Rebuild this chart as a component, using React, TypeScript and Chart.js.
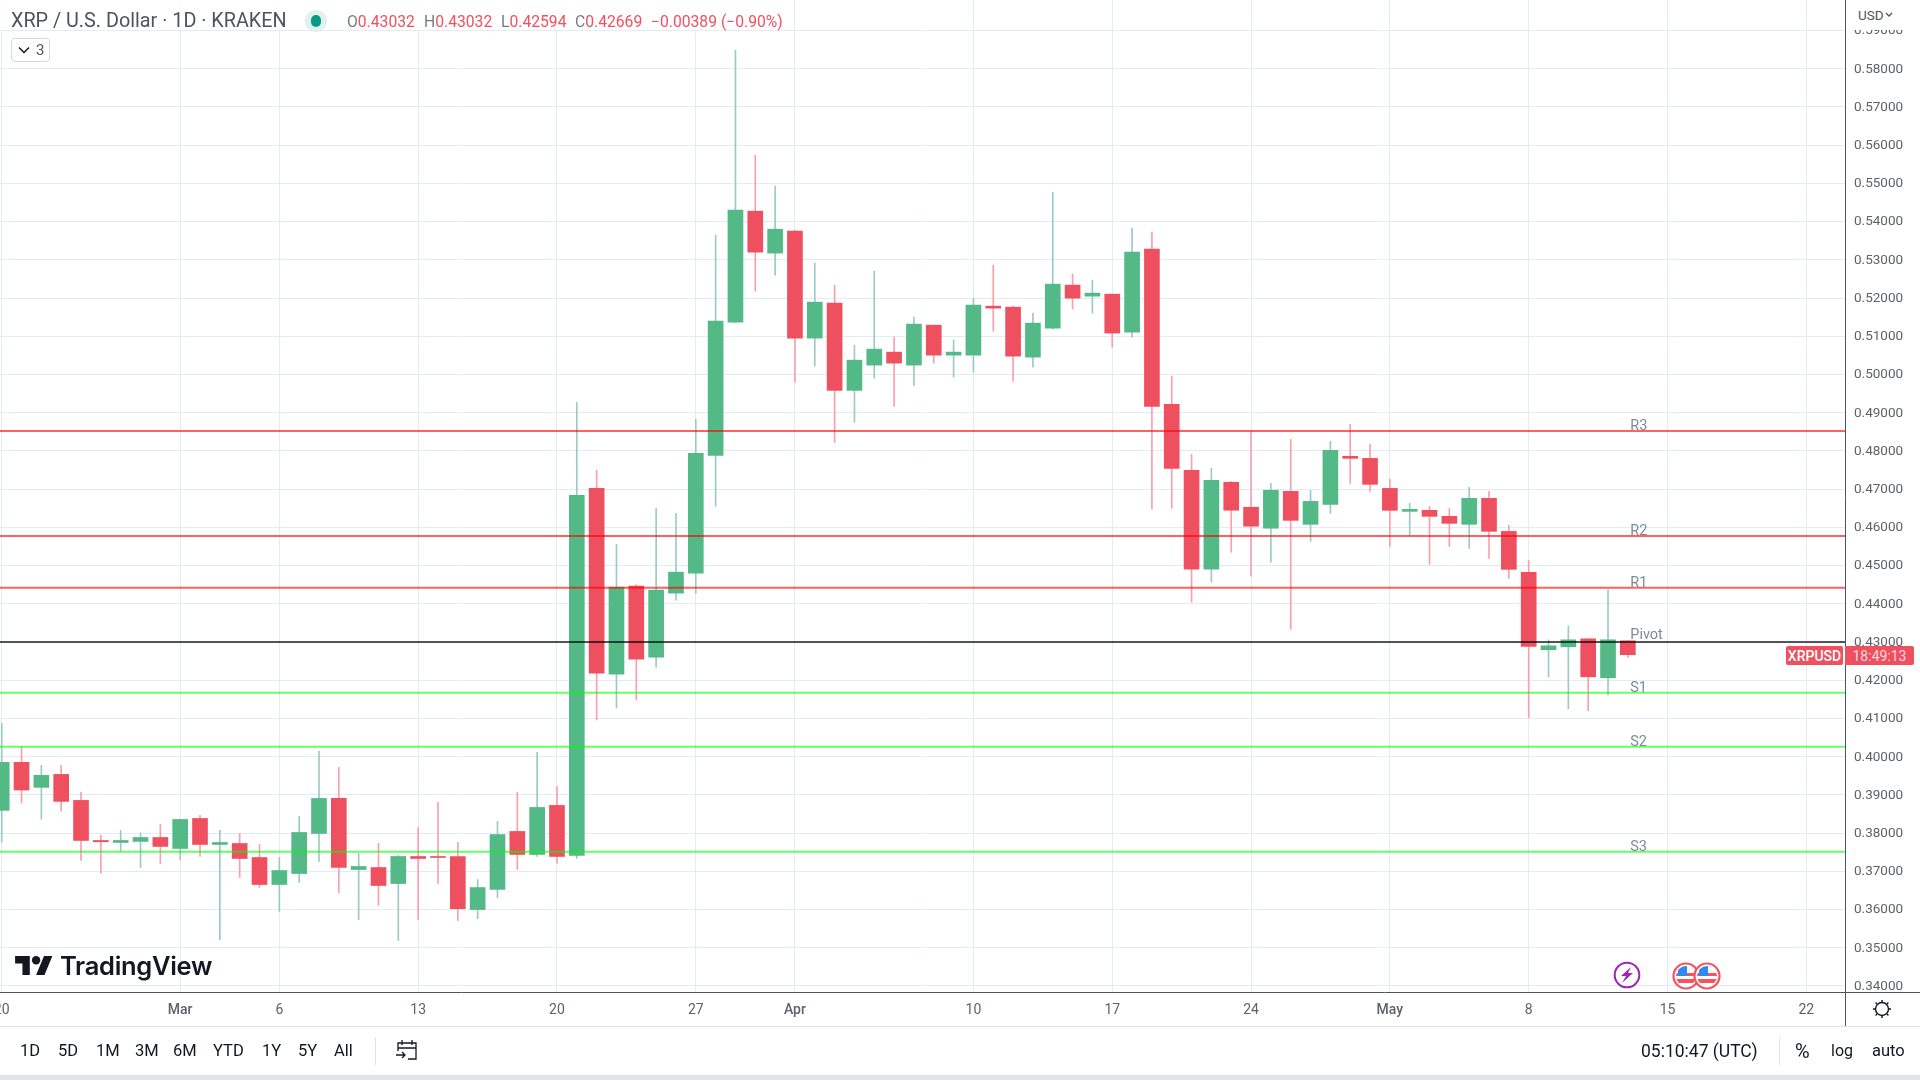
import React, { useEffect, useRef } from "react";
import { Chart, registerables } from "chart.js";

Chart.register(...registerables);

// Day index: 0 = 20 Feb, one step per calendar day
const opens = [0.38594,0.39852,0.39197,0.39537,0.38856,0.37808,0.37755,0.37782,0.37886,0.37598,0.38384,0.37703,0.37729,0.37362,0.36655,0.36943,0.37991,0.38908,0.37048,0.371,0.36681,0.37389,0.37389,0.37389,0.36,0.36524,0.38044,0.37441,0.38725,0.37415,0.47023,0.42162,0.44462,0.42606,0.44279,0.44801,0.47885,0.51369,0.54273,0.53175,0.5375,0.50951,0.51867,0.49584,0.50245,0.50585,0.50245,0.51291,0.50506,0.50506,0.51788,0.51762,0.50454,0.51212,0.52338,0.52049,0.52102,0.51108,0.53279,0.49218,0.47493,0.44906,0.47179,0.46526,0.45977,0.46942,0.46079,0.46602,0.47858,0.47805,0.4702,0.46419,0.46445,0.46288,0.46079,0.46759,0.45895,0.44823,0.42797,0.42875,0.43084,0.42064,0.43032];
const closes = [0.39852,0.39127,0.39511,0.3883,0.37808,0.37773,0.37808,0.37886,0.37651,0.38358,0.37703,0.37755,0.37336,0.36655,0.37022,0.38017,0.38908,0.371,0.37127,0.36629,0.37389,0.37336,0.37362,0.36026,0.36576,0.37965,0.37441,0.38672,0.37389,0.4684,0.42188,0.44436,0.42554,0.44357,0.44828,0.47937,0.51396,0.543,0.53201,0.53802,0.50951,0.51893,0.49584,0.50375,0.50663,0.50297,0.51317,0.50506,0.50585,0.51814,0.51736,0.5048,0.51343,0.52364,0.51997,0.52128,0.51082,0.53201,0.49165,0.47545,0.44906,0.47232,0.46448,0.4603,0.4697,0.46183,0.4668,0.48015,0.47805,0.47125,0.46445,0.46471,0.46288,0.46105,0.46759,0.45895,0.44901,0.42887,0.42901,0.43058,0.4209,0.43058,0.42669];
const highs = [0.40873,0.40253,0.39773,0.39773,0.39066,0.37939,0.3807,0.38009,0.38227,0.38358,0.38463,0.3807,0.37991,0.37703,0.37362,0.38437,0.4014,0.39721,0.37467,0.37729,0.37415,0.38148,0.38803,0.37755,0.36786,0.38306,0.39066,0.40114,0.39223,0.4927,0.47493,0.45559,0.445,0.465,0.46369,0.48826,0.53646,0.58485,0.55738,0.54927,0.53776,0.52913,0.52338,0.50768,0.52704,0.50977,0.515,0.51291,0.50898,0.51997,0.52861,0.51788,0.51605,0.54771,0.52625,0.52468,0.52102,0.53829,0.53724,0.49956,0.47911,0.47545,0.47206,0.48512,0.47153,0.48302,0.46968,0.4825,0.48695,0.48172,0.47256,0.46628,0.4655,0.46497,0.47047,0.46942,0.46052,0.45137,0.43058,0.43424,0.43084,0.44366,0.43032];
const lows = [0.37764,0.38786,0.38367,0.38576,0.37284,0.36952,0.3752,0.371,0.37205,0.3731,0.37389,0.35214,0.36838,0.36576,0.35948,0.36707,0.37258,0.36445,0.35738,0.36105,0.35188,0.35738,0.36681,0.35712,0.35764,0.36314,0.37048,0.37389,0.37205,0.37336,0.4096,0.41273,0.41483,0.42345,0.44096,0.44279,0.46552,0.5135,0.5218,0.52599,0.49801,0.50218,0.48225,0.48747,0.49904,0.49165,0.49714,0.50297,0.49931,0.50061,0.51134,0.49828,0.50192,0.51186,0.5171,0.51605,0.50715,0.50977,0.46474,0.465,0.44044,0.44566,0.4535,0.44723,0.45089,0.43332,0.45634,0.46366,0.47151,0.46942,0.45503,0.45791,0.45032,0.45503,0.45451,0.45189,0.44665,0.41018,0.4209,0.41253,0.41201,0.41619,0.42594];

const priceTicks = [0.34,0.35,0.36,0.37,0.38,0.39,0.4,0.41,0.42,0.43,0.44,0.45,0.46,0.47,0.48,0.49,0.5,0.51,0.52,0.53,0.54,0.55,0.56,0.57,0.58,0.59];
const dateTickDays = [0,9,14,21,28,35,40,49,56,63,70,77,84,91];
const dateTickLabels = ["20","Mar","6","13","20","27","Apr","10","17","24","May","8","15","22"];
const monthTicks = ["Mar","Apr","May"];

const pivotNames = ["R3","R2","R1","Pivot","S1","S2","S3"];
const pivotLevels = [0.48521,0.45777,0.44419,0.43,0.41672,0.40259,0.37512];
const pivotColors = ["rgba(255,0,0,.62)","rgba(255,0,0,.62)","rgba(255,0,0,.62)","rgba(0,0,0,.66)","rgba(0,255,0,.6)","rgba(0,255,0,.6)","rgba(0,255,0,.6)"];

const rangeButtons = ["1D","5D","1M","3M","6M","YTD","1Y","5Y","All"];
const rangeButtonX = [20,58,96,135,173,213,262,298,334];

const ohlcNames = ["O","H","L","C"];
const ohlcValues = ["0.43032","0.43032","0.42594","0.42669"];
const ohlcX = [347,424,501,575];

const GREEN = "#53b987", RED = "#ef5060", WICK_GREEN = "#9bc9c8", WICK_RED = "#f9a0ab";
const GRID = "#e2ecf2";
const FONT = "Roboto, sans-serif";
const X_MIN = -0.086, X_MAX = 92.95, Y_MIN = 0.33843, Y_MAX = 0.59798;

const days = opens.map((_, i) => i);
const isUp = days.map((i) => closes[i] >= opens[i]);

const pivotLabelPlugin = {
  id: "pivotLabels",
  afterDatasetsDraw(chart: any) {
    const { ctx, scales } = chart;
    ctx.save();
    ctx.font = `14.5px ${FONT}`;
    ctx.fillStyle = "#7a8c9c";
    ctx.textAlign = "left";
    ctx.textBaseline = "alphabetic";
    pivotNames.forEach((n, i) => {
      const lift = n === "Pivot" ? 3 : 1;
      ctx.fillText(n, scales.x.getPixelForValue(82.12), scales.y.getPixelForValue(pivotLevels[i]) - lift);
    });
    ctx.restore();
  },
};

function abs(x: number, y: number, extra: any = {}): any {
  return { position: "absolute", left: x, top: y, whiteSpace: "nowrap", ...extra };
}

function Flag({ cx }: { cx: number }) {
  const s = 1686;
  return (
    <g transform={`translate(${cx - s} 0)`}>
      <circle cx={s} cy={976} r={12.5} fill="#fff" stroke="#f7525f" strokeWidth={2.2} />
      <clipPath id={`f${cx}`}><circle cx={s} cy={976} r={10} /></clipPath>
      <g clipPath={`url(#f${cx})`}>
        <rect x={s - 10} y={973} width={20} height={3} fill="#f7525f" />
        <rect x={s - 10} y={979} width={20} height={4} fill="#f7525f" />
        <rect x={s - 10} y={966} width={3} height={3} fill="#f7525f" />
        <rect x={s - 8} y={966} width={9} height={10} fill="#2b8cf0" />
      </g>
    </g>
  );
}

export default function App() {
  const ref = useRef<HTMLCanvasElement>(null);
  useEffect(() => {
    document.body.style.margin = "0";
    document.body.style.overflow = "hidden";
    const chart = new Chart(ref.current as HTMLCanvasElement, {
      type: "bar",
      data: {
        datasets: [
          ...pivotLevels.map((lvl, i) => ({
            type: "line" as const,
            label: pivotNames[i],
            data: [{ x: X_MIN, y: lvl }, { x: X_MAX, y: lvl }],
            borderColor: pivotColors[i],
            borderWidth: 2,
            pointRadius: 0,
            order: 0,
          })),
          {
            label: "XRPUSD body",
            data: days.map((i) => ({ x: i, y: [opens[i], closes[i]] })),
            backgroundColor: days.map((i) => (isUp[i] ? GREEN : RED)),
            barThickness: 15,
            grouped: false,
            order: 1,
          },
          {
            label: "XRPUSD wick",
            data: days.map((i) => ({ x: i, y: [lows[i], highs[i]] })),
            backgroundColor: days.map((i) => (isUp[i] ? WICK_GREEN : WICK_RED)),
            barThickness: 1,
            grouped: false,
            order: 2,
          },
        ] as any,
      },
      options: {
        responsive: false,
        animation: false,
        devicePixelRatio: 1,
        layout: { padding: 0 },
        plugins: { legend: { display: false }, tooltip: { enabled: false } },
        scales: {
          x: {
            type: "linear",
            min: X_MIN,
            max: X_MAX,
            offset: false,
            grid: { color: GRID, drawTicks: false, offset: false, tickLength: 0 },
            border: { display: true, color: "#50535e", width: 1 },
            afterBuildTicks: (s: any) => { s.ticks = dateTickDays.map((value) => ({ value })); },
            afterFit: (s: any) => { s.height = 34; s.paddingLeft = 0; s.paddingRight = 0; },
            ticks: {
              autoSkip: false,
              maxRotation: 0,
              minRotation: 0,
              padding: 10,
              color: "#5f626d",
              font: (c: any) => {
                const k = dateTickDays.indexOf(c.tick?.value);
                return { family: FONT, size: 14, weight: monthTicks.includes(dateTickLabels[k]) ? 500 : 400 };
              },
              callback: (v: any) => dateTickLabels[dateTickDays.indexOf(v)],
            },
          },
          y: {
            position: "right",
            min: Y_MIN,
            max: Y_MAX,
            grid: { color: GRID, drawTicks: false, tickLength: 0 },
            border: { display: true, color: "#50535e", width: 1 },
            afterBuildTicks: (s: any) => { s.ticks = priceTicks.map((value) => ({ value })); },
            afterFit: (s: any) => { s.width = 75; s.paddingTop = 0; s.paddingBottom = 0; },
            ticks: {
              autoSkip: false,
              padding: 9,
              labelOffset: 0.5,
              color: "#5f626d",
              font: { family: FONT, size: 13.5 },
              callback: (v: any) => Number(v).toFixed(5),
            },
          },
        },
      } as any,
      plugins: [pivotLabelPlugin],
    });
    return () => chart.destroy();
  }, []);

  const redText = "#f0505f";
  const grey = "#787b86";
  const ohlcStyle = { fontSize: 15.7, lineHeight: "24px" };
  return (
    <div style={{ position: "fixed", left: 0, top: 0, width: 1920, height: 1080, background: "#fff", overflow: "hidden", fontFamily: FONT }}>
      <canvas ref={ref} width={1920} height={1026} style={{ position: "absolute", left: 0, top: 0, display: "block" }} />

      {/* frame lines */}
      <div style={abs(1845, 992, { width: 75, height: 1, background: "#50535e" })} />
      <div style={abs(1845, 992, { width: 1, height: 34, background: "#50535e" })} />
      <div style={abs(0, 1026, { width: 1920, height: 1, background: "#e0e3eb" })} />
      <div style={abs(0, 1075, { width: 1920, height: 5, background: "#e0e3eb" })} />

      {/* header */}
      <div style={abs(0, 0, { width: 790, height: 30, background: "rgba(255,255,255,.85)" })} />
      <div style={abs(11, 8, { fontSize: 19.8, lineHeight: "26px", color: "#50535e" })}>XRP / U.S. Dollar · 1D · KRAKEN</div>
      <div style={abs(305, 10, { width: 22, height: 22, borderRadius: 11, background: "#dff2ef" })} />
      <div style={abs(311, 15, { width: 10, height: 12, borderRadius: 6, background: "#089981" })} />
      {ohlcNames.map((n, i) => (
        <div key={n} style={abs(ohlcX[i], 10, { ...ohlcStyle, color: redText })}>
          <span style={{ color: grey }}>{n}</span>{ohlcValues[i]}
        </div>
      ))}
      <div style={abs(651, 10, { ...ohlcStyle, color: redText })}>−0.00389 (−0.90%)</div>
      <div style={abs(11, 38, { width: 39, height: 24, boxSizing: "border-box", border: "1px solid #d6d8e0", borderRadius: 4, background: "#fff" })} />
      <svg style={abs(18, 46)} width={12} height={8}><path d="M1 1.5 L6 6.5 L11 1.5" fill="none" stroke="#131722" strokeWidth={1.5} /></svg>
      <div style={abs(36, 39, { fontSize: 15, lineHeight: "22px", color: "#50535e" })}>3</div>

      {/* USD box */}
      <div style={abs(1846, 0, { width: 74, height: 30, background: "#fff" })} />
      <div style={abs(1858, 5, { fontSize: 13.5, lineHeight: "20px", color: "#50535e" })}>USD</div>
      <svg style={abs(1885, 12)} width={8} height={6}><path d="M1 1 L4 4 L7 1" fill="none" stroke="#50535e" strokeWidth={1.3} /></svg>

      {/* last price labels */}
      <div style={abs(1786, 646, { width: 57, height: 19, background: RED, borderRadius: 2, color: "#fff", fontSize: 14, fontWeight: 500, lineHeight: "20px", textAlign: "center" })}>XRPUSD</div>
      <div style={abs(1845, 646, { width: 69, height: 19, background: RED, borderRadius: "0 2px 2px 0", color: "#fbd9dc", fontSize: 14, lineHeight: "20px", textAlign: "center" })}>18:49:13</div>

      {/* watermark */}
      <svg style={abs(15, 955)} width={38} height={21} viewBox="0 3 36 20">
        <path d="M14 22H7V11H0V4h14v18ZM28 22h-8l7.5-18h8L28 22Z" fill="#131722" />
        <circle cx="20" cy="8" r="4" fill="#131722" />
      </svg>
      <div style={abs(60, 948, { fontFamily: "Inter, " + FONT, fontSize: 25.5, fontWeight: 600, letterSpacing: "-0.3px", lineHeight: "36px", color: "#131722" })}>TradingView</div>

      {/* event icons */}
      <svg style={abs(0, 0)} width={1920} height={1080}>
        <circle cx={1627} cy={975} r={12.3} fill="#fff" stroke="#9c27b0" strokeWidth={2} />
        <path d="M1631 967 L1621 976 L1626 976 L1622 983 L1633 973 L1628 973 Z" fill="#9c27b0" />
        <Flag cx={1686} />
        <Flag cx={1707} />
        {/* settings */}
        <circle cx={1882} cy={1009} r={6.5} fill="none" stroke="#131722" strokeWidth={1.4} />
        <path d="M1882 1000v2M1882 1016v2M1873 1009h2M1889 1009h2M1875.6 1002.6l1.4 1.4M1887 1014l1.4 1.4M1875.6 1015.4l1.4-1.4M1887 1004l1.4-1.4" stroke="#131722" strokeWidth={1.4} />
        {/* dividers */}
        <path d="M375.5 1037v28M1779.5 1037v28" stroke="#e0e3eb" />
        {/* calendar */}
        <path d="M398 1051v-8h18v16h-8M402 1040v5M412 1040v5M398 1048h18M396 1055h9M402 1052l3 3-3 3" fill="none" stroke="#131722" strokeWidth={1.3} />
      </svg>

      {/* bottom toolbar */}
      {rangeButtons.map((b, i) => (
        <div key={b} style={abs(rangeButtonX[i], 1040, { fontSize: 16.5, lineHeight: "22px", color: "#131722" })}>{b}</div>
      ))}
      <div style={abs(1641, 1039, { fontSize: 17.5, lineHeight: "24px", color: "#131722" })}>05:10:47 (UTC)</div>
      <div style={abs(1795, 1039, { fontSize: 20, lineHeight: "24px", color: "#131722" })}>%</div>
      <div style={abs(1831, 1039, { fontSize: 16, lineHeight: "24px", color: "#131722" })}>log</div>
      <div style={abs(1872, 1039, { fontSize: 16.5, lineHeight: "24px", color: "#131722" })}>auto</div>
    </div>
  );
}
